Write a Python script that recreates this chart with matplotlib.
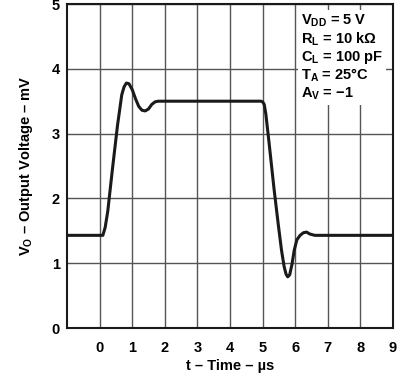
import matplotlib.pyplot as plt

# Forma de onda (t en µs, V_O en mV)
tiempo = [-1.0, 0.10, 0.17, 0.25, 0.40, 0.55, 0.68, 0.75, 0.82, 0.90, 1.00,
          1.10, 1.20, 1.30, 1.40, 1.50, 1.60, 1.70, 1.80, 4.95, 5.00, 5.05,
          5.10, 5.20, 5.35, 5.48, 5.58, 5.66, 5.72, 5.77, 5.83, 5.90, 5.97,
          6.05, 6.15, 6.25, 6.35, 6.45, 6.60, 9.0]
voltaje = [1.43, 1.43, 1.55, 1.80, 2.48, 3.13, 3.60, 3.72, 3.78, 3.77, 3.68,
           3.54, 3.42, 3.36, 3.35, 3.38, 3.45, 3.49, 3.50, 3.50, 3.49, 3.45,
           3.30, 2.85, 2.15, 1.60, 1.20, 0.95, 0.83, 0.79, 0.82, 0.98, 1.20,
           1.36, 1.43, 1.47, 1.48, 1.45, 1.43, 1.43]

xticks = [0, 1, 2, 3, 4, 5, 6, 7, 8, 9]
yticks = [0, 1, 2, 3, 4, 5]

condiciones = ("$\\mathbf{V_{DD}}$ = 5 V\n"
               "$\\mathbf{R_{L}}$ = 10 k\u03a9\n"
               "$\\mathbf{C_{L}}$ = 100 pF\n"
               "$\\mathbf{T_{A}}$ = 25\u00b0C\n"
               "$\\mathbf{A_{V}}$ = \u22121")

plt.rcParams["font.family"] = ["Liberation Sans", "DejaVu Sans"]
plt.rcParams["font.weight"] = "bold"
plt.rcParams["mathtext.fontset"] = "custom"
plt.rcParams["mathtext.bf"] = "Liberation Sans:bold"
plt.rcParams["mathtext.rm"] = "Liberation Sans:bold"

fig = plt.figure(figsize=(3.99, 3.74), dpi=100)
ax = fig.add_axes([67 / 399, 1 - 328 / 374, 326 / 399, 324 / 374])

ax.plot(tiempo, voltaje, color="#1a1a1a", lw=2.2, zorder=3)

ax.set_xlim(-1, 9)
ax.set_ylim(0, 5)
ax.set_xticks(xticks)
ax.set_yticks(yticks)
ax.tick_params(length=0, labelsize=10.5)
ax.tick_params(axis="x", pad=9)
ax.tick_params(axis="y", pad=5)
for lab in ax.get_xticklabels() + ax.get_yticklabels():
    lab.set_fontweight("bold")
ax.grid(True, color="#555555", lw=1.0)
for s in ax.spines.values():
    s.set_linewidth(1.5)
    s.set_color("#1a1a1a")

ax.set_xlabel("t \u2013 Time \u2013 \u00b5s", fontsize=10.5, fontweight="bold", labelpad=3)
ax.set_ylabel("$\\mathbf{V_O}$ \u2013 Output Voltage \u2013 mV", fontsize=10.5,
              fontweight="bold", labelpad=12)

ax.text(6.18, 4.87, condiciones, fontsize=10.5, fontweight="bold", va="top",
        ha="left", linespacing=1.1, zorder=4,
        bbox=dict(facecolor="white", edgecolor="none", pad=2))

fig.savefig("out.png", dpi=100)
